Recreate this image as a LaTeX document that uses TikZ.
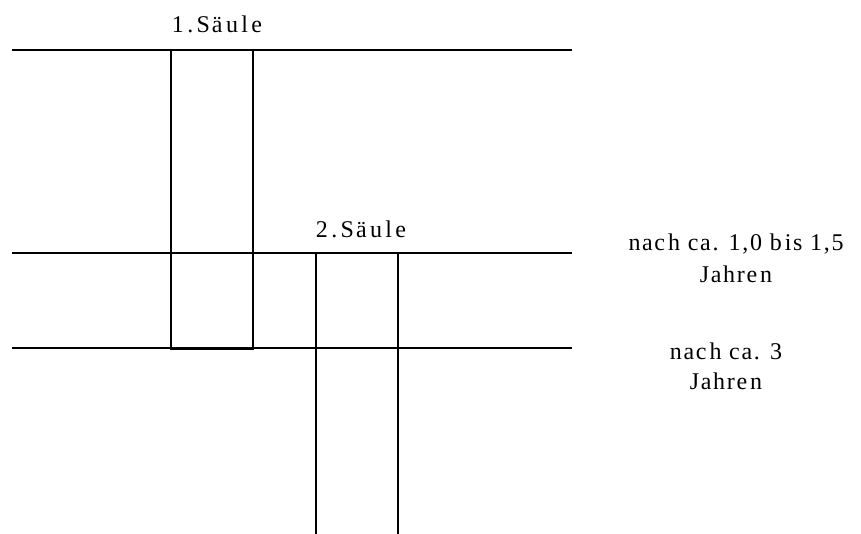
\documentclass[tikz,border=0pt]{standalone}
\usepackage{fontspec}
\setmainfont{Liberation Serif}
\newfontfamily\colfont{Liberation Serif}[LetterSpace=14]
\newfontfamily\notefont{Liberation Serif}[LetterSpace=7]
\begin{document}
\begin{tikzpicture}[x=1pt,y=-1pt,
  ln/.style={line width=1.6pt,black},
  lbl/.style={inner sep=0pt,anchor=base,font=\colfont\fontsize{24}{28}\selectfont},
  note/.style={inner sep=0pt,anchor=base,font=\notefont\fontsize{24}{28}\selectfont}]
\useasboundingbox (0,0) rectangle (861,534);
% horizontal lines
\coordinate (h1l) at (12,50);  \coordinate (h1r) at (572,50);
\coordinate (h2l) at (12,253); \coordinate (h2r) at (572,253);
\coordinate (h3l) at (12,348); \coordinate (h3r) at (572,348);
\draw[ln] (h1l) -- (h1r);
\draw[ln] (h2l) -- (h2r);
\draw[ln] (h3l) -- (h3r);
% column 1
\draw[ln] (171,50) rectangle (253,349);
% column 2 (open at bottom)
\draw[ln] (316,534) -- (316,253) -- (398,253) -- (398,534);
% labels
\node[lbl] (s1) at (217,33) {1.S\kern2pt äule};
\node[lbl] (s2) at (361,238) {2.S\kern2pt äule};
\node[note] (t1a) at (736,251) {nac\kern3pt h ca. 1,0 b\kern3pt is 1,5};
\node[note] (t1b) at (736,283) {Jahre\kern3pt n};
\node[note] (t2a) at (726,359) {nac\kern3pt h ca. 3};
\node[note] (t2b) at (726,389) {Jahre\kern3pt n};
\end{tikzpicture}
\end{document}
